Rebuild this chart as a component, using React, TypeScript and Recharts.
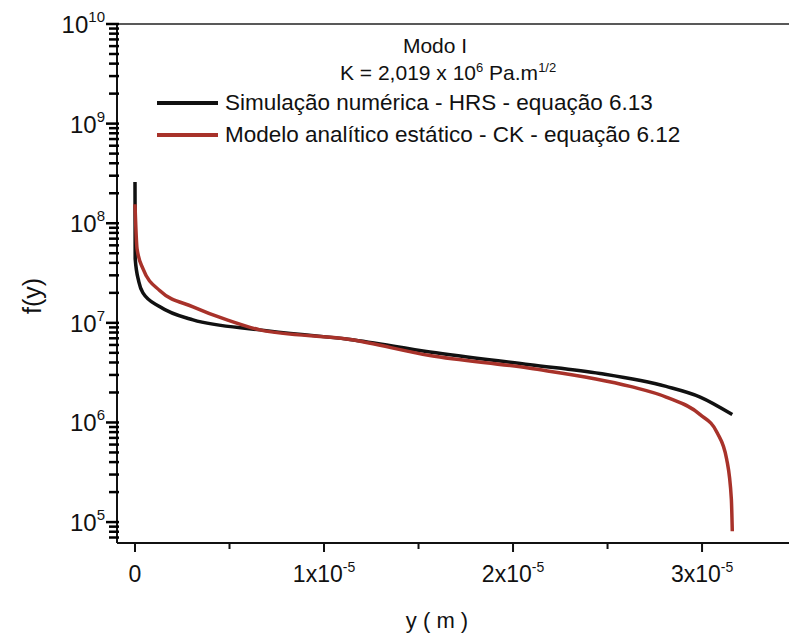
import React from "react";
import { LineChart, Line, XAxis, YAxis, ReferenceLine } from "recharts";

// y (m) positions and f(y) values
const hrsPos = [0, 0.01e-6, 0.2e-6, 0.42e-6, 1.32e-6, 3.07e-6, 6.61e-6, 11.38e-6, 15.6e-6, 20.9e-6, 24.6e-6, 28.1e-6, 29.9e-6, 31.6e-6];
const hrsVal = [2.6e8, 4.4e7, 2.6e7, 2.0e7, 1.45e7, 1.07e7, 8.5e6, 6.8e6, 5.1e6, 3.8e6, 3.1e6, 2.3e6, 1.8e6, 1.2e6];

const ckPos = [0, 0.11e-6, 0.42e-6, 1.32e-6, 3.07e-6, 4.87e-6, 6.61e-6, 11.38e-6, 15.6e-6, 20.9e-6, 26.2e-6, 28.1e-6, 29.9e-6, 30.8e-6, 31.3e-6, 31.55e-6, 31.6e-6];
const ckVal = [1.55e8, 5.5e7, 3.5e7, 2.1e7, 1.45e7, 1.07e7, 8.5e6, 6.8e6, 4.7e6, 3.5e6, 2.3e6, 1.8e6, 1.2e6, 7.9e5, 4.3e5, 1.7e5, 8.1e4];

const seriesNames = [
  "Simulação numérica - HRS - equação 6.13",
  "Modelo analítico estático - CK - equação 6.12",
];
const seriesColors = ["#111111", "#a8322a"];

const xTicks = [0, 0.5e-5, 1e-5, 1.5e-5, 2e-5, 2.5e-5, 3e-5];

const FONT = "'Liberation Sans', Arial, sans-serif";

const hrsData = hrsPos.map((p, i) => ({ y: p, f: hrsVal[i] }));
const ckData = ckPos.map((p, i) => ({ y: p, f: ckVal[i] }));

const yMin = 61660;
const yTicks: number[] = [];
for (let e = 4; e <= 9; e++) {
  for (let m = 1; m <= 9; m++) {
    const v = m * Math.pow(10, e);
    if (v >= yMin) yTicks.push(v);
  }
}
yTicks.push(1e10);

const XTick = (props: any) => {
  const { x, y, payload } = props;
  const k = Math.round(payload.value / 5e-6);
  const major = k % 2 === 0;
  const n = k / 2;
  return (
    <g>
      <rect x={x - 1} y={y} width={2} height={major ? 9 : 6} fill="#111" />
      {major && (
        <text x={x} y={y + 39} textAnchor="middle" fontSize={23} fill="#111" fontFamily={FONT}>
          {n === 0 ? (
            "0"
          ) : (
            <>
              {n}x10
              <tspan dy={-10} fontSize={14}>-5</tspan>
            </>
          )}
        </text>
      )}
    </g>
  );
};

const YTick = (props: any) => {
  const { x, y, payload } = props;
  const lg = Math.log10(payload.value);
  const e = Math.round(lg);
  const major = Math.abs(lg - e) < 1e-6;
  const len = major ? 11 : 8;
  return (
    <g>
      <rect x={x - len} y={y - 1.25} width={len + 2} height={2.5} fill="#000" />
      {major && (
        <text x={x - 12} y={y + 9} textAnchor="end" fontSize={24} fill="#111" fontFamily={FONT}>
          10
          <tspan dy={-11} fontSize={15}>{e}</tspan>
        </text>
      )}
    </g>
  );
};

const App = () => {
  return (
    <div style={{ position: "absolute", left: 0, top: 0, width: 789, height: 639 }}>
      {/* annotations and legend */}
      <div style={{ position: "absolute", left: 380, top: 34, width: 110, textAlign: "center", fontSize: 21, color: "#111", fontFamily: FONT }}>
        Modo I
      </div>
      <div style={{ position: "absolute", left: 340, top: 60, fontSize: 21, color: "#111", whiteSpace: "nowrap", fontFamily: FONT }}>
        K = 2,019 x 10<sup style={{ fontSize: 13 }}>6</sup> Pa.m<sup style={{ fontSize: 13 }}>1/2</sup>
      </div>
      {seriesNames.map((name, i) => (
        <div
          key={name}
          style={{ position: "absolute", left: 157, top: 90 + i * 32, display: "flex", alignItems: "center", whiteSpace: "nowrap", fontSize: 22.5, color: "#111", fontFamily: FONT }}
        >
          <span style={{ display: "inline-block", width: 61, height: 3.5, background: seriesColors[i], marginRight: 7 }} />
          {name}
        </div>
      ))}
      <div style={{ position: "absolute", left: 397, top: 608, width: 80, textAlign: "center", fontSize: 22, color: "#111", whiteSpace: "nowrap", fontFamily: FONT }}>
        y ( m )
      </div>
      <div
        style={{ position: "absolute", left: 32, top: 296, transform: "translate(-50%, -50%) rotate(-90deg)", fontSize: 25, color: "#111", whiteSpace: "nowrap", fontFamily: FONT }}
      >
        f(y)
      </div>

      <div style={{ position: "absolute", left: 0, top: 0 }}>
        <LineChart width={789} height={639} margin={{ top: 24, right: 0, bottom: 0, left: 0 }}>
          <XAxis
            type="number"
            dataKey="y"
            domain={[-0.952e-6, 3.46e-5]}
            allowDataOverflow
            ticks={xTicks}
            interval={0}
            height={96}
            tickLine={false}
            tickSize={0}
            tickMargin={0}
            tick={<XTick />}
            axisLine={{ stroke: "#111", strokeWidth: 2 }}
          />
          <YAxis
            type="number"
            dataKey="f"
            scale="log"
            domain={[yMin, 1e10]}
            allowDataOverflow
            ticks={yTicks}
            interval={0}
            width={117}
            tickLine={false}
            tickSize={0}
            tickMargin={0}
            tick={<YTick />}
            axisLine={{ stroke: "#111", strokeWidth: 2 }}
          />
          <ReferenceLine y={1e10} stroke="#222" strokeWidth={1.5} />
          <Line
            data={hrsData}
            dataKey="f"
            type="monotone"
            stroke={seriesColors[0]}
            strokeWidth={3.5}
            dot={false}
            isAnimationActive={false}
          />
          <Line
            data={ckData}
            dataKey="f"
            type="monotone"
            stroke={seriesColors[1]}
            strokeWidth={3.5}
            dot={false}
            isAnimationActive={false}
          />
        </LineChart>
      </div>
    </div>
  );
};

export default App;
